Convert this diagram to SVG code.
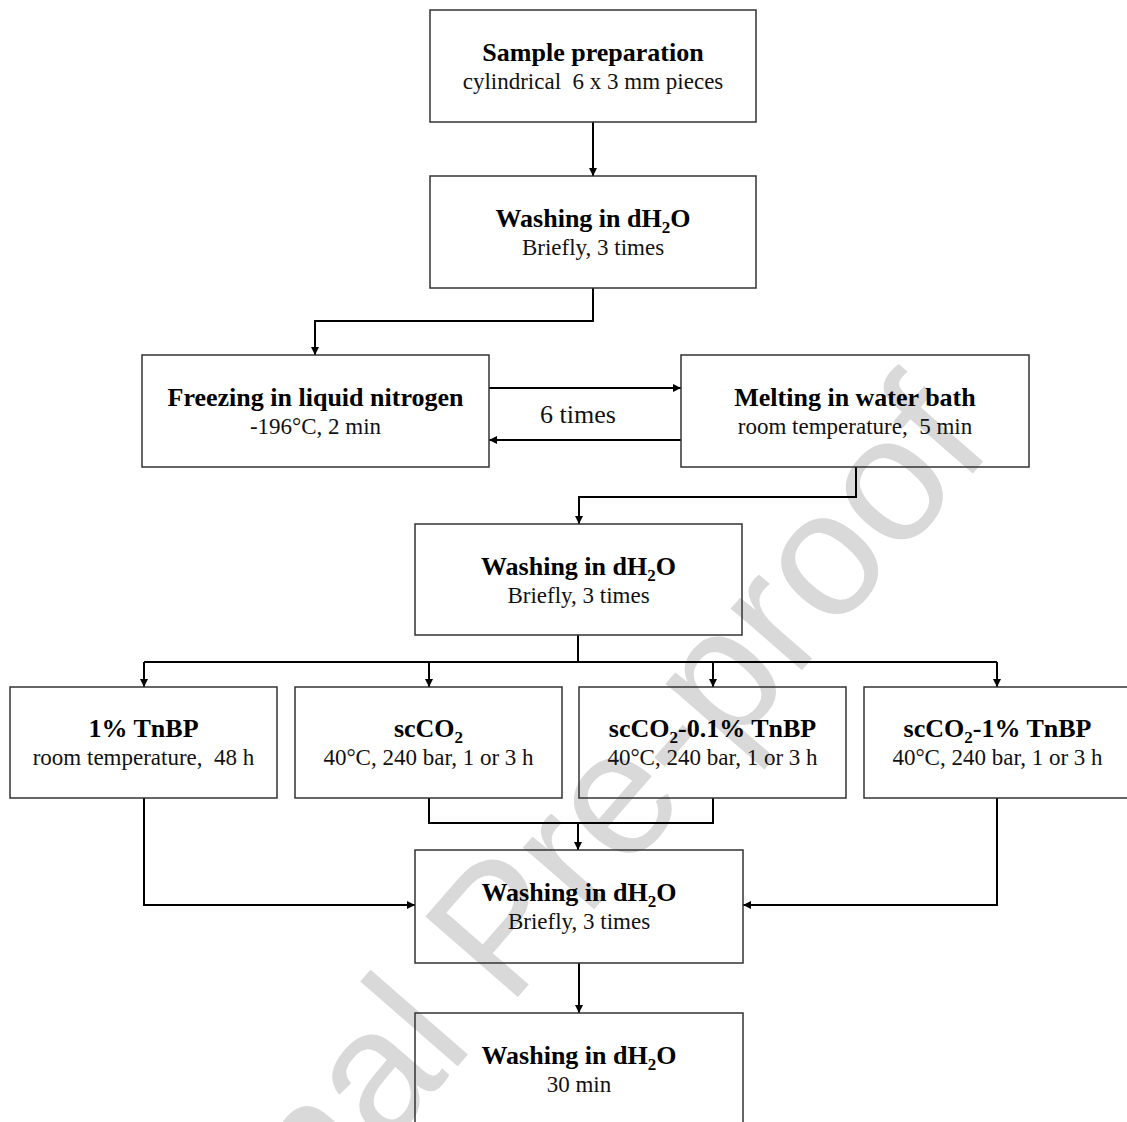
<svg xmlns="http://www.w3.org/2000/svg" width="1127" height="1122" viewBox="0 0 1127 1122">
<style>
.box{fill:none;stroke:#333;stroke-width:1.5}
.t{font-family:"Liberation Serif","Times New Roman",serif;font-size:26px;font-weight:bold;fill:#000;text-anchor:middle}
.s{font-family:"Liberation Serif","Times New Roman",serif;font-size:23px;fill:#111;text-anchor:middle}
.sub{font-size:17px}
.c{fill:none;stroke:#000;stroke-width:2}
.a{marker-end:url(#ah)}
.wm{font-family:"Liberation Sans",Arial,sans-serif;font-size:178px;fill:#d9d9d9}
</style>
<defs>
<marker id="ah" markerUnits="userSpaceOnUse" markerWidth="10" markerHeight="10" refX="8" refY="4" orient="auto">
<path d="M0,0 L8,4 L0,8 z" fill="#000"/>
</marker>
</defs>
<rect width="1127" height="1122" fill="#fff"/>
<text class="wm" transform="translate(995,448) rotate(-49)" text-anchor="end">Journal Pre-proof</text>

<g id="connectors">
<path class="c a" d="M593,122 V176"/>
<path class="c a" d="M593,288 V321 H315 V355"/>
<path class="c a" d="M489,388 H681"/>
<path class="c a" d="M681,440 H489"/>
<path class="c a" d="M856,467 V497 H579 V524"/>
<path class="c" d="M578,635 V662 M144,662 H997"/>
<path class="c a" d="M144,662 V687"/>
<path class="c a" d="M429,662 V687"/>
<path class="c a" d="M713,662 V687"/>
<path class="c a" d="M997,662 V687"/>
<path class="c a" d="M144,798 V905 H415"/>
<path class="c" d="M429,798 V823 H713 V798"/>
<path class="c a" d="M578,823 V850"/>
<path class="c a" d="M997,798 V905 H743"/>
<path class="c a" d="M579,963 V1013"/>
</g>

<g id="n1">
<rect class="box" x="430" y="10" width="326" height="112"/>
<text class="t" x="593" y="61">Sample preparation</text>
<text class="s" x="593" y="89">cylindrical&#160; 6 x 3 mm pieces</text>
</g>
<g id="n2">
<rect class="box" x="430" y="176" width="326" height="112"/>
<text class="t" x="593" y="227">Washing in dH<tspan class="sub" dy="6">2</tspan><tspan dy="-6">O</tspan></text>
<text class="s" x="593" y="255">Briefly, 3 times</text>
</g>
<g id="n3">
<rect class="box" x="142" y="355" width="347" height="112"/>
<text class="t" x="315.5" y="406">Freezing in liquid nitrogen</text>
<text class="s" x="315.5" y="434">-196°C, 2 min</text>
</g>
<g id="n4">
<rect class="box" x="681" y="355" width="348" height="112"/>
<text class="t" x="855" y="406">Melting in water bath</text>
<text class="s" x="855" y="434">room temperature,&#160; 5 min</text>
</g>
<g id="lbl6">
<text class="s" x="578" y="423" style="font-size:26px">6 times</text>
</g>
<g id="n5">
<rect class="box" x="415" y="524" width="327" height="111"/>
<text class="t" x="578.5" y="575">Washing in dH<tspan class="sub" dy="6">2</tspan><tspan dy="-6">O</tspan></text>
<text class="s" x="578.5" y="603">Briefly, 3 times</text>
</g>
<g id="n6">
<rect class="box" x="10" y="687" width="267" height="111"/>
<text class="t" x="143.5" y="737">1% TnBP</text>
<text class="s" x="143.5" y="765">room temperature,&#160; 48 h</text>
</g>
<g id="n7">
<rect class="box" x="295" y="687" width="267" height="111"/>
<text class="t" x="428.5" y="737">scCO<tspan class="sub" dy="6">2</tspan></text>
<text class="s" x="428.5" y="765">40°C, 240 bar, 1 or 3 h</text>
</g>
<g id="n8">
<rect class="box" x="579" y="687" width="267" height="111"/>
<text class="t" x="712.5" y="737">scCO<tspan class="sub" dy="6">2</tspan><tspan dy="-6">-0.1% TnBP</tspan></text>
<text class="s" x="712.5" y="765">40°C, 240 bar, 1 or 3 h</text>
</g>
<g id="n9">
<rect class="box" x="864" y="687" width="267" height="111"/>
<text class="t" x="997.5" y="737">scCO<tspan class="sub" dy="6">2</tspan><tspan dy="-6">-1% TnBP</tspan></text>
<text class="s" x="997.5" y="765">40°C, 240 bar, 1 or 3 h</text>
</g>
<g id="n10">
<rect class="box" x="415" y="850" width="328" height="113"/>
<text class="t" x="579" y="901">Washing in dH<tspan class="sub" dy="6">2</tspan><tspan dy="-6">O</tspan></text>
<text class="s" x="579" y="929">Briefly, 3 times</text>
</g>
<g id="n11">
<rect class="box" x="415" y="1013" width="328" height="130"/>
<text class="t" x="579" y="1064">Washing in dH<tspan class="sub" dy="6">2</tspan><tspan dy="-6">O</tspan></text>
<text class="s" x="579" y="1092">30 min</text>
</g>
</svg>
